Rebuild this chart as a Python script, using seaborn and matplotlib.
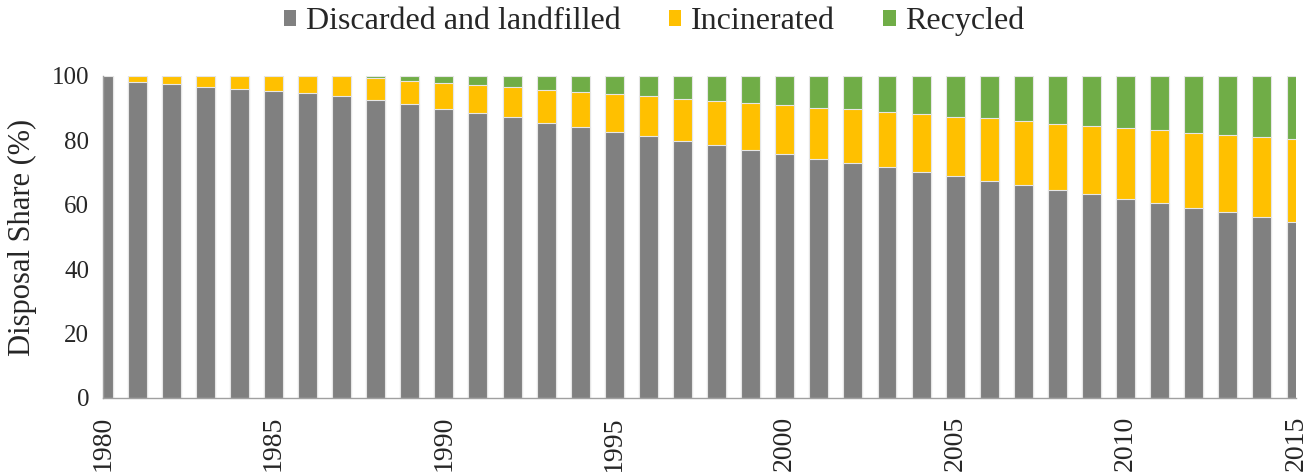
import pandas as pd
import matplotlib.pyplot as plt
import seaborn as sns
from matplotlib.patches import Patch

# Data (% share of disposal by year)
years = list(range(1980, 2016))
discarded = [100, 98.0, 97.4, 96.7, 96.0, 95.2, 94.7, 93.9, 92.6, 91.4,
             89.9, 88.6, 87.2, 85.5, 84.2, 82.7, 81.4, 79.9, 78.6, 77.1,
             75.8, 74.3, 73.0, 71.6, 70.2, 68.8, 67.5, 66.0, 64.7, 63.2,
             61.9, 60.5, 59.1, 57.8, 56.3, 54.8]
incinerated = [0, 2.0, 2.6, 3.3, 4.0, 4.8, 5.3, 6.1, 6.9, 7.0,
               8.0, 8.6, 9.4, 10.3, 10.9, 11.6, 12.4, 13.0, 13.7, 14.5,
               15.2, 15.9, 16.6, 17.2, 18.0, 18.6, 19.3, 20.0, 20.5, 21.4,
               22.0, 22.7, 23.3, 24.0, 24.8, 25.6]
recycled = [0, 0, 0, 0, 0, 0, 0, 0, 0.5, 1.6,
            2.1, 2.8, 3.4, 4.2, 4.9, 5.7, 6.2, 7.1, 7.7, 8.4,
            9.0, 9.8, 10.4, 11.2, 11.8, 12.6, 13.2, 14.0, 14.8, 15.4,
            16.1, 16.8, 17.6, 18.2, 18.9, 19.6]

labels = ["Discarded and landfilled", "Incinerated", "Recycled"]
colors = ["#808080", "#FFC000", "#70AD47"]

df = pd.DataFrame({"year": years, "discarded": discarded,
                   "incinerated": incinerated, "recycled": recycled})
# cumulative tops for layered stacking
df["top_inc"] = df["discarded"] + df["incinerated"]
df["top_rec"] = df["top_inc"] + df["recycled"]

sns.set_theme(style="white")
plt.rcParams["font.family"] = ["Liberation Serif", "DejaVu Serif"]

fig = plt.figure(figsize=(13.16, 4.72), dpi=100)
ax = fig.add_axes([0.0783, 0.1568, 0.9065, 0.6822])

bar_kw = dict(native_scale=True, width=0.556, edgecolor="#e6e6e6",
              linewidth=0.8, ax=ax, errorbar=None)
sns.barplot(data=df, x="year", y="top_rec", color=colors[2], saturation=1, **bar_kw)
sns.barplot(data=df, x="year", y="top_inc", color=colors[1], saturation=1, **bar_kw)
sns.barplot(data=df, x="year", y="discarded", color=colors[0], saturation=1, **bar_kw)

ax.set_xlim(1980, 2015)
ax.set_ylim(0, 100)
ax.set_xticks(years)
ax.set_xticklabels([str(y) if y % 5 == 0 else "" for y in years],
                   rotation=90, fontsize=20)
ax.set_yticks(range(0, 101, 20))
ax.set_yticklabels([str(v) for v in range(0, 101, 20)], fontsize=18)
ax.tick_params(axis="x", direction="out", length=7, width=1, color="#a0a0a0", pad=6)
ax.tick_params(axis="y", direction="out", length=5, width=1, color="#a0a0a0", pad=5)
ax.set_xlabel("")
ax.set_ylabel("Disposal Share (%)", fontsize=22)
ax.yaxis.set_label_coords(-0.055, 0.5)

for s in ["top", "right"]:
    ax.spines[s].set_visible(False)
for s in ["left", "bottom"]:
    ax.spines[s].set_color("#a0a0a0")
    ax.spines[s].set_linewidth(1)

handles = [Patch(facecolor=c, edgecolor="none") for c in colors]
fig.legend(handles, labels, loc="center", bbox_to_anchor=(0.497, 0.955),
           ncol=3, frameon=False, fontsize=23, handlelength=0.4,
           handleheight=0.4, handletextpad=0.3, columnspacing=1.5)

plt.savefig("out.png", dpi=100)
